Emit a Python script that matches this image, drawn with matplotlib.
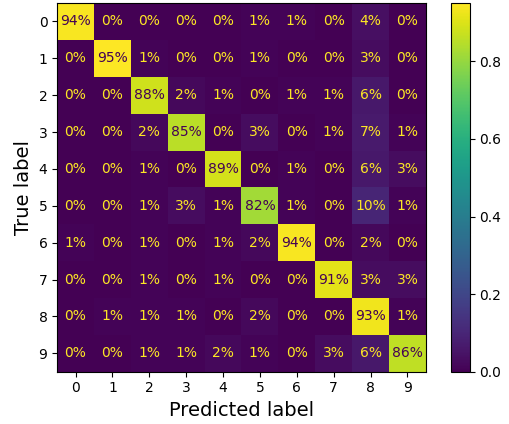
import numpy as np
import matplotlib.pyplot as plt

labels = [str(i) for i in range(10)]

# row-normalized confusion matrix (true rows, predicted columns)
cm = np.array([
    [0.94, 0.00, 0.00, 0.00, 0.00, 0.01, 0.01, 0.00, 0.04, 0.00],
    [0.00, 0.95, 0.01, 0.00, 0.00, 0.01, 0.00, 0.00, 0.03, 0.00],
    [0.00, 0.00, 0.88, 0.02, 0.01, 0.00, 0.01, 0.01, 0.06, 0.00],
    [0.00, 0.00, 0.02, 0.85, 0.00, 0.03, 0.00, 0.01, 0.07, 0.01],
    [0.00, 0.00, 0.01, 0.00, 0.89, 0.00, 0.01, 0.00, 0.06, 0.03],
    [0.00, 0.00, 0.01, 0.03, 0.01, 0.82, 0.01, 0.00, 0.10, 0.01],
    [0.01, 0.00, 0.01, 0.00, 0.01, 0.02, 0.94, 0.00, 0.02, 0.00],
    [0.00, 0.00, 0.01, 0.00, 0.01, 0.00, 0.00, 0.91, 0.03, 0.03],
    [0.00, 0.01, 0.01, 0.01, 0.00, 0.02, 0.00, 0.00, 0.93, 0.01],
    [0.00, 0.00, 0.01, 0.01, 0.02, 0.01, 0.00, 0.03, 0.06, 0.86],
])

fig = plt.figure(figsize=(5.1, 4.24), dpi=100)
ax = fig.add_axes([0.112, 0.123, 0.723, 0.870])
cax = fig.add_axes([0.884, 0.123, 0.037, 0.870])

cmap = plt.get_cmap('viridis')
im = ax.imshow(cm, cmap=cmap, interpolation='nearest')
fig.colorbar(im, cax=cax)

thresh = (cm.max() + cm.min()) / 2.0
for i in range(cm.shape[0]):
    for j in range(cm.shape[1]):
        color = cmap(0.0) if cm[i, j] >= thresh else cmap(1.0)
        ax.text(j, i, f"{cm[i, j]:.0%}", ha='center', va='center', color=color, fontsize=10)

ax.set_xticks(range(10))
ax.set_xticklabels(labels)
ax.set_yticks(range(10))
ax.set_yticklabels(labels)
ax.set_xlabel('Predicted label', fontsize=14)
ax.set_ylabel('True label', fontsize=14)

fig.savefig('out.png', dpi=100)
